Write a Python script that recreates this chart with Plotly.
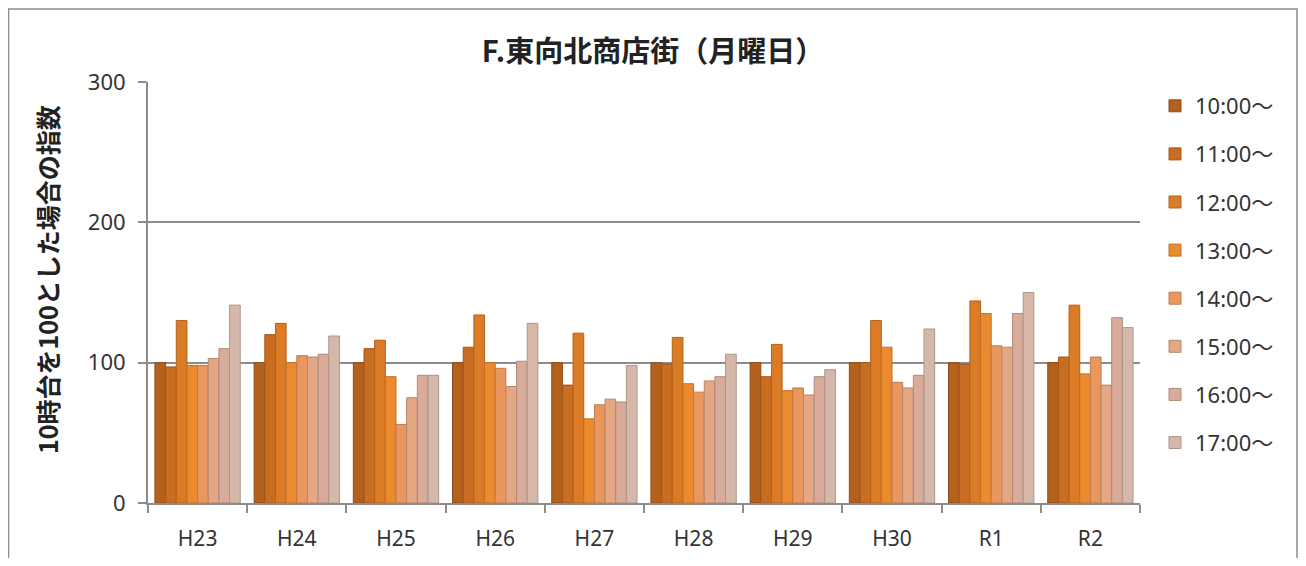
import plotly.graph_objects as go

categories = ["H23", "H24", "H25", "H26", "H27", "H28", "H29", "H30", "R1", "R2"]
series_names = ["10:00～", "11:00～", "12:00～", "13:00～", "14:00～", "15:00～", "16:00～", "17:00～"]

v10 = [100, 100, 100, 100, 100, 100, 100, 100, 100, 100]
v11 = [97, 120, 110, 111, 84, 99, 90, 100, 99, 104]
v12 = [130, 128, 116, 134, 121, 118, 113, 130, 144, 141]
v13 = [98, 100, 90, 100, 60, 85, 80, 111, 135, 92]
v14 = [98, 105, 56, 96, 70, 79, 82, 86, 112, 104]
v15 = [103, 104, 75, 83, 74, 87, 77, 82, 111, 84]
v16 = [110, 106, 91, 101, 72, 90, 90, 91, 135, 132]
v17 = [141, 119, 91, 128, 98, 106, 95, 124, 150, 125]
series_values = [v10, v11, v12, v13, v14, v15, v16, v17]

colors = ["#B4611E", "#C96D22", "#DC7B25", "#EC8A30", "#E9975E", "#E3A783", "#D8AC99", "#D6B8AA"]
lines = ["#8E4A14", "#A2561A", "#B0621C", "#C07026", "#BE7A4C", "#B8876A", "#AE8A7C", "#AC958A"]

fig = go.Figure()
for name, vals, c, lc in zip(series_names, series_values, colors, lines):
    fig.add_trace(go.Bar(
        x=categories, y=vals, name=name, legendgroup=name,
        marker=dict(color=c, line=dict(color=lc, width=1)),
    ))

# figure is drawn with an 8px page margin; coordinates below are in figure pixels
FW, FH = 1290, 550
W0, W1, H0, H1 = 140, 1132, 74, 495
def px(x):
    return (x - W0) / (W1 - W0)
def py(y):
    return (H1 - y) / (H1 - H0)

fig.update_layout(
    width=FW, height=FH,
    margin=dict(l=W0, r=FW - W1, t=H0, b=FH - H1, autoexpand=False),
    paper_bgcolor="white", plot_bgcolor="white",
    barmode="group", bargap=0.14, bargroupgap=0,
    font=dict(family="Noto Sans, Noto Sans CJK JP", color="#333333"),
    title=dict(text="<b>F.東向北商店街（月曜日）</b>", x=0.5, xanchor="center",
               y=1 - 44 / FH, yanchor="middle",
               font=dict(family="Noto Sans CJK JP", size=29, color="#222222")),
    xaxis=dict(showline=True, linecolor="#8C8C8C", linewidth=2, automargin=False,
               ticks="outside", ticklen=8, tickcolor="#8C8C8C", tickwidth=2,
               tickson="boundaries", ticklabelstandoff=16,
               tickfont=dict(size=21, color="#333333")),
    yaxis=dict(range=[0, 300], dtick=100, showline=True, linecolor="#8C8C8C", linewidth=2,
               automargin=False,
               ticks="outside", ticklen=8, tickcolor="#8C8C8C", tickwidth=2,
               showgrid=True, gridcolor="#8C8C8C", gridwidth=1.5,
               ticklabelstandoff=8,
               tickfont=dict(size=22, color="#333333")),
    legend=dict(x=px(1147), xanchor="left", y=py(77), yanchor="top",
                font=dict(size=22, color="#333333"), tracegroupgap=16.5,
                bgcolor="rgba(0,0,0,0)"),
    annotations=[dict(text="<b>10時台を100とした場合の指数</b>", textangle=-90,
                      xref="paper", yref="paper", x=px(39), y=py(272),
                      xanchor="center", yanchor="middle", showarrow=False,
                      font=dict(family="Noto Sans CJK JP", size=25, color="#222222"))],
    shapes=[dict(type="rect", xref="paper", yref="paper",
                 x0=px(0.5), x1=px(1289), y0=py(700), y1=py(1),
                 line=dict(color="#8C8C8C", width=1.5), fillcolor="rgba(0,0,0,0)", layer="below")],
)

fig.write_html("out.html")
